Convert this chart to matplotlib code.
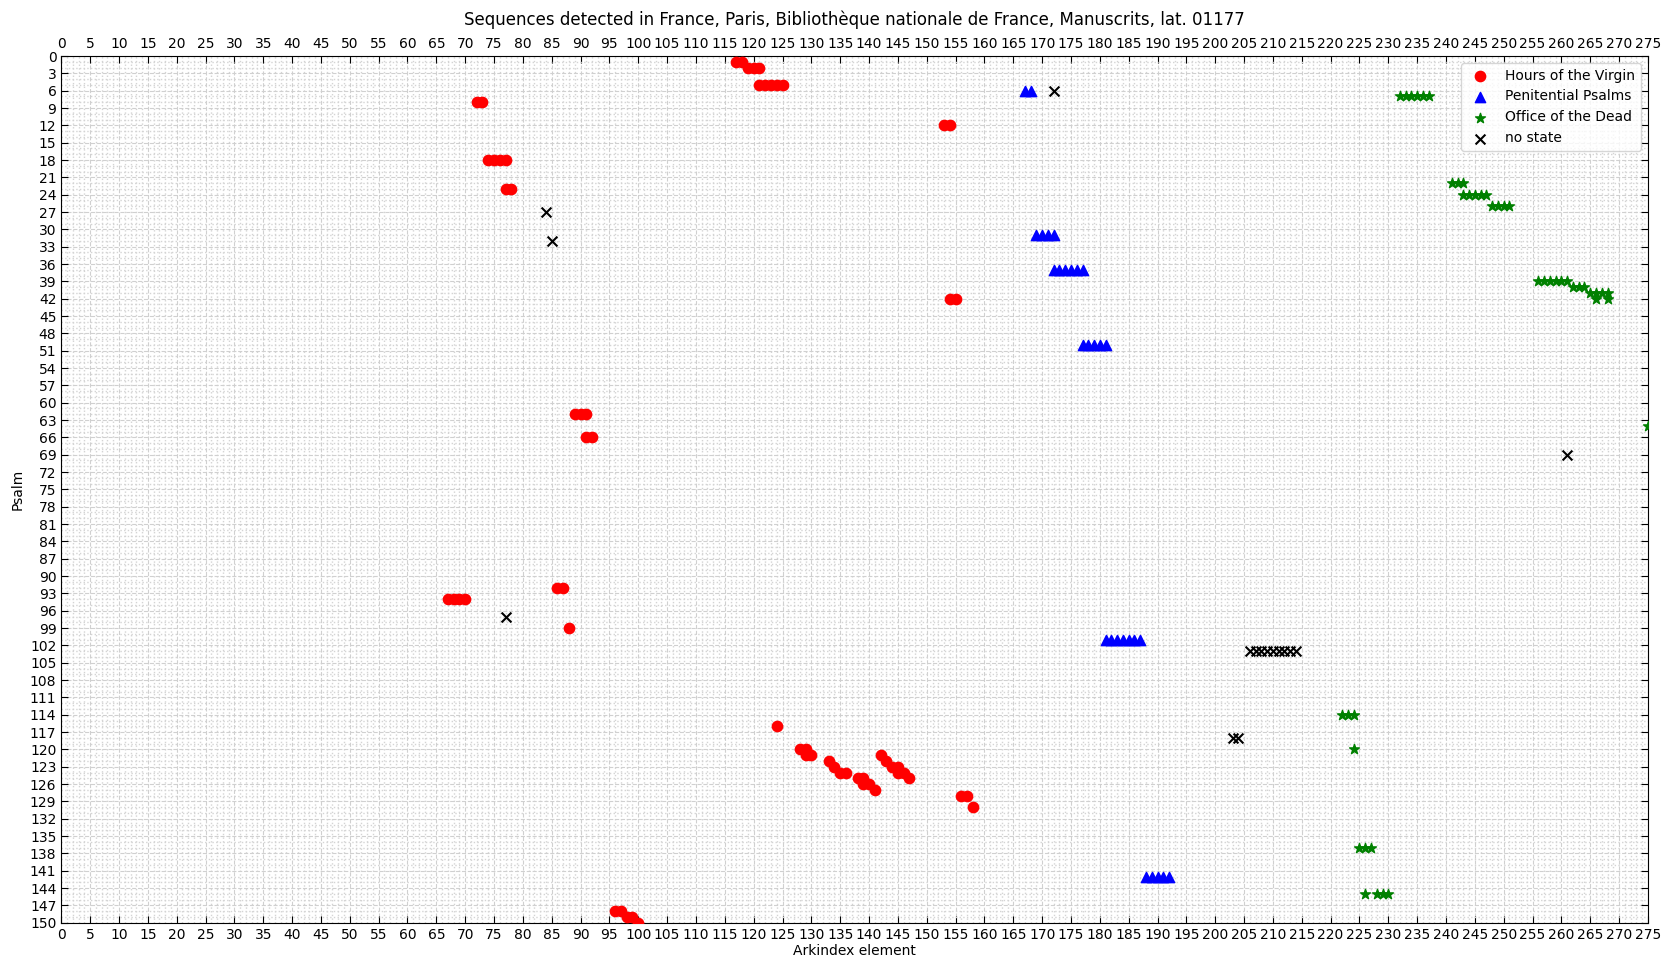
"""Scatter of psalm sequences detected along the Arkindex elements of one manuscript."""
import numpy as np
import matplotlib.pyplot as plt
from matplotlib.ticker import MultipleLocator

TITLE = "Sequences detected in France, Paris, Bibliothèque nationale de France, Manuscrits, lat. 01177"

# (element, psalm) pairs
virgin_x = [117, 118, 119, 120, 121, 121, 122, 123, 124, 125, 72, 73, 153, 154,
            74, 75, 76, 77, 77, 78, 154, 155, 89, 90, 91, 91, 92, 86, 87,
            67, 68, 69, 70, 88, 124, 128, 129, 129, 130, 133, 134, 135, 136,
            138, 139, 139, 140, 141, 142, 143, 144, 145, 145, 146, 147,
            156, 157, 158, 96, 97, 98, 99, 100]
virgin_y = [1, 1, 2, 2, 2, 5, 5, 5, 5, 5, 8, 8, 12, 12,
            18, 18, 18, 18, 23, 23, 42, 42, 62, 62, 62, 66, 66, 92, 92,
            94, 94, 94, 94, 99, 116, 120, 120, 121, 121, 122, 123, 124, 124,
            125, 125, 126, 126, 127, 121, 122, 123, 123, 124, 124, 125,
            128, 128, 130, 148, 148, 149, 149, 150]

penitential_x = [167, 168, 169, 170, 171, 172, 172, 173, 174, 175, 176, 177,
                 177, 178, 179, 180, 181, 181, 182, 183, 184, 185, 186, 187,
                 188, 189, 190, 191, 192]
penitential_y = [6, 6, 31, 31, 31, 31, 37, 37, 37, 37, 37, 37,
                 50, 50, 50, 50, 50, 101, 101, 101, 101, 101, 101, 101,
                 142, 142, 142, 142, 142]

dead_x = [232, 233, 234, 235, 236, 237, 241, 242, 243, 243, 244, 245, 246, 247,
          248, 249, 250, 251, 256, 257, 258, 259, 260, 261, 262, 263, 264,
          265, 266, 267, 268, 266, 268, 275, 222, 223, 224, 224,
          225, 226, 227, 226, 228, 229, 230]
dead_y = [7, 7, 7, 7, 7, 7, 22, 22, 22, 24, 24, 24, 24, 24,
          26, 26, 26, 26, 39, 39, 39, 39, 39, 39, 40, 40, 40,
          41, 41, 41, 41, 42, 42, 64, 114, 114, 114, 120,
          137, 137, 137, 145, 145, 145, 145]

nostate_x = [172, 84, 85, 261, 77, 206, 207, 208, 209, 210, 211, 212, 213, 214, 203, 204]
nostate_y = [6, 27, 32, 69, 97, 103, 103, 103, 103, 103, 103, 103, 103, 103, 118, 118]


fig = plt.figure(figsize=(16.7, 9.71), dpi=100)
ax = fig.add_axes([0.0367, 0.0497, 0.9501, 0.8926])

ax.scatter(virgin_x, virgin_y, s=55, c='red', marker='o', label='Hours of the Virgin', zorder=3)
ax.scatter(penitential_x, penitential_y, s=55, c='blue', marker='^', label='Penitential Psalms', zorder=3)
ax.scatter(dead_x, dead_y, s=55, c='green', marker='*', label='Office of the Dead', zorder=3)
ax.scatter(nostate_x, nostate_y, s=50, c='black', marker='x', label='no state', zorder=3)

ax.set_xlim(0, 275)
ax.set_ylim(150, 0)
ax.set_xticks(np.arange(0, 276, 5))
ax.set_yticks(np.arange(0, 151, 3))
ax.xaxis.set_minor_locator(MultipleLocator(1))
ax.yaxis.set_minor_locator(MultipleLocator(1))

ax.tick_params(which='major', direction='in', top=True, right=True,
               labeltop=True, labelbottom=True, length=5)
ax.tick_params(which='minor', length=0)

ax.grid(which='major', linestyle='--', color='#d0d0d0', linewidth=0.8)
ax.grid(which='minor', linestyle=':', color='#d4d4d4', linewidth=1.0)
ax.set_axisbelow(True)

ax.set_xlabel('Arkindex element', labelpad=2)
ax.set_ylabel('Psalm')
ax.set_title(TITLE, pad=22)
ax.legend(loc='upper right')

plt.savefig('out.png', dpi=100)
plt.close()
